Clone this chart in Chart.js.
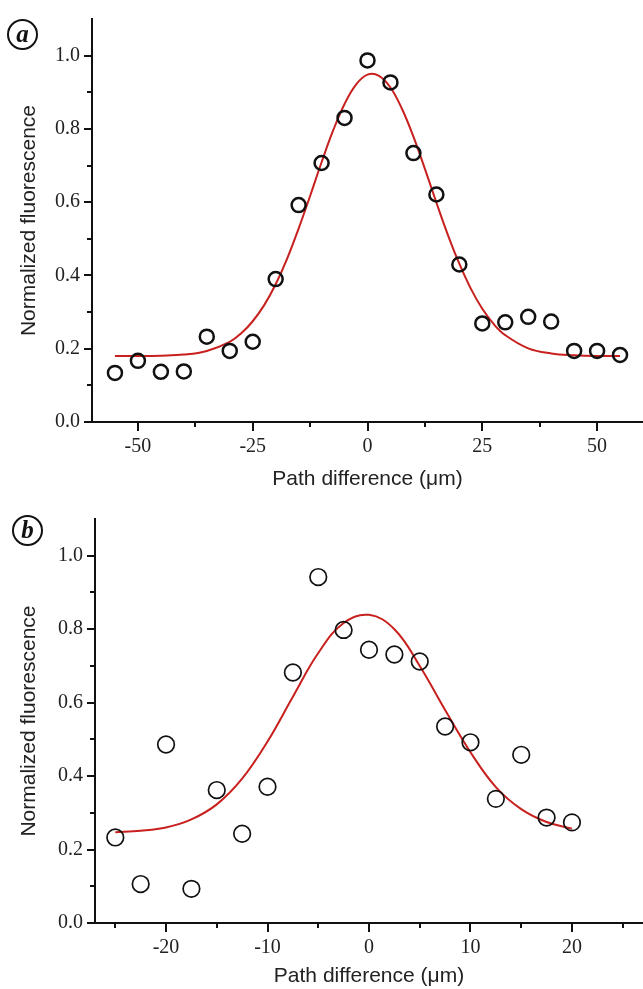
<!DOCTYPE html>
<html>
<head>
<meta charset="utf-8">
<script src="https://cdn.jsdelivr.net/npm/chart.js@4.4.1/dist/chart.umd.min.js"></script>
<style>
    body { margin: 0; background: #fff; width: 643px; height: 989px; position: relative; overflow: hidden; }
    canvas { position: absolute; left: 0; }
    #graficoA { top: 0; }
    #graficoB { top: 495px; }
    .etiqueta {
        position: absolute; width: 27px; height: 27px;
        border: 2px solid #111; border-radius: 50%;
        font: italic bold 25px "Liberation Serif", serif;
        text-align: center; line-height: 25px; color: #111;
    }
</style>
</head>
<body>
<canvas id="graficoA" width="643" height="495"></canvas>
<canvas id="graficoB" width="643" height="494"></canvas>
<div class="etiqueta" style="left:7px; top:19px;">a</div>
<div class="etiqueta" style="left:12px; top:515px;">b</div>
<script>
// Panel (a): medidas
const distanciaA = [-55, -50, -45, -40, -35, -30, -25, -20, -15, -10, -5, 0, 5, 10, 15, 20, 25, 30, 35, 40, 45, 50, 55];
const fluorA = [0.134, 0.167, 0.137, 0.138, 0.233, 0.194, 0.219, 0.390, 0.592, 0.707, 0.830, 0.987, 0.927, 0.734, 0.621, 0.430, 0.269, 0.272, 0.287, 0.274, 0.194, 0.194, 0.183];
// Panel (a): curva de ajuste
const ajusteXA = [-55, -50, -45, -40, -35, -30, -27.5, -25, -22.5, -20, -17.5, -15, -12.5, -10, -7.5, -5, -2.5, 0, 2.5, 5, 7.5, 10, 12.5, 15, 17.5, 20, 22.5, 25, 27.5, 30, 35, 40, 45, 50, 55];
const ajusteYA = [0.180, 0.180, 0.181, 0.184, 0.194, 0.219, 0.242, 0.275, 0.319, 0.376, 0.446, 0.528, 0.617, 0.709, 0.795, 0.868, 0.921, 0.948, 0.945, 0.913, 0.855, 0.779, 0.691, 0.599, 0.511, 0.432, 0.364, 0.309, 0.267, 0.237, 0.201, 0.187, 0.182, 0.180, 0.180];
const ticksXA = [-50, -25, 0, 25, 50];
const menoresXA = [-37.5, -12.5, 12.5, 37.5];

// Panel (b): medidas
const distanciaB = [-25, -22.5, -20, -17.5, -15, -12.5, -10, -7.5, -5, -2.5, 0, 2.5, 5, 7.5, 10, 12.5, 15, 17.5, 20];
const fluorB = [0.233, 0.106, 0.486, 0.093, 0.362, 0.243, 0.371, 0.682, 0.942, 0.798, 0.744, 0.731, 0.712, 0.535, 0.492, 0.338, 0.458, 0.287, 0.274];
// Panel (b): curva de ajuste
const ajusteXB = [-25, -22.5, -20, -17.5, -15, -12.5, -10, -7.5, -5, -2.5, 0, 2.5, 5, 7.5, 10, 12.5, 15, 17.5, 20];
const ajusteYB = [0.247, 0.251, 0.260, 0.282, 0.323, 0.393, 0.494, 0.616, 0.735, 0.817, 0.839, 0.800, 0.700, 0.580, 0.465, 0.370, 0.310, 0.275, 0.257];
const ticksXB = [-20, -10, 0, 10, 20];
const menoresXB = [-25, -15, -5, 5, 15, 25];

// Eje Y comun
const ticksY = [0, 0.2, 0.4, 0.6, 0.8, 1.0];
const menoresY = [0.1, 0.3, 0.5, 0.7, 0.9];

// Marcas menores de los ejes
const ticksMenores = {
    id: 'ticksMenores',
    afterDraw(chart, args, opts) {
        const { ctx, scales: { x, y } } = chart;
        ctx.save();
        ctx.strokeStyle = '#111';
        ctx.lineWidth = 2;
        ctx.beginPath();
        opts.x.forEach(v => {
            const px = Math.round(x.getPixelForValue(v));
            ctx.moveTo(px, x.top);
            ctx.lineTo(px, x.top + 5);
        });
        opts.y.forEach(v => {
            const py = Math.round(y.getPixelForValue(v));
            ctx.moveTo(y.right, py);
            ctx.lineTo(y.right - 5, py);
        });
        ctx.stroke();
        ctx.restore();
    }
};

function crearPanel(idCanvas, p) {
    const puntos = p.xs.map((v, i) => ({ x: v, y: p.ys[i] }));
    const curva = p.fx.map((v, i) => ({ x: v, y: p.fy[i] }));
    new Chart(document.getElementById(idCanvas), {
        type: 'scatter',
        data: {
            datasets: [{
                data: puntos,
                pointStyle: 'circle',
                pointRadius: p.radio,
                pointBorderWidth: p.borde,
                pointBackgroundColor: 'rgba(0,0,0,0)',
                pointBorderColor: '#111',
                order: 1
            }, {
                data: curva,
                showLine: true,
                tension: 0.4,
                borderColor: '#c8201e',
                borderWidth: 2,
                pointRadius: 0,
                order: 2
            }]
        },
        options: {
            responsive: false,
            animation: false,
            layout: { autoPadding: false, padding: { top: p.arriba, right: 0, bottom: 0, left: 0 } },
            plugins: {
                legend: { display: false },
                tooltip: { enabled: false },
                ticksMenores: { x: p.menoresX, y: menoresY }
            },
            scales: {
                x: {
                    type: 'linear',
                    min: p.minX,
                    max: p.maxX,
                    afterBuildTicks: s => { s.ticks = p.ticksX.map(v => ({ value: v })); },
                    afterFit: s => { s.height = p.altoX; s.paddingLeft = 0; s.paddingRight = 0; },
                    border: { color: '#111', width: 2 },
                    grid: { drawOnChartArea: false, tickLength: 9, color: '#111', lineWidth: 2 },
                    ticks: {
                        font: { family: 'Liberation Serif', size: 20 },
                        color: '#222', padding: 4, maxRotation: 0,
                        callback: v => String(v)
                    },
                    title: {
                        display: true,
                        text: 'Path difference (μm)',
                        font: { family: 'Liberation Sans', size: 21 },
                        color: '#222',
                        padding: { top: 0, bottom: p.pieTitulo }
                    }
                },
                y: {
                    min: 0,
                    max: 1.1,
                    afterBuildTicks: s => { s.ticks = ticksY.map(v => ({ value: v })); },
                    afterFit: s => { s.width = p.anchoY; s.paddingTop = 0; s.paddingBottom = 0; },
                    border: { color: '#111', width: 2 },
                    grid: { drawOnChartArea: false, tickLength: 8, color: '#111', lineWidth: 2 },
                    ticks: {
                        font: { family: 'Liberation Serif', size: 20 },
                        color: '#222', padding: 4,
                        callback: v => Number(v).toFixed(1)
                    },
                    title: {
                        display: true,
                        text: 'Normalized fluorescence',
                        font: { family: 'Liberation Sans', size: 21 },
                        color: '#222',
                        padding: { top: 17, bottom: 0 }
                    }
                }
            }
        },
        plugins: [ticksMenores]
    });
}

crearPanel('graficoA', {
    xs: distanciaA, ys: fluorA, fx: ajusteXA, fy: ajusteYA,
    ticksX: ticksXA, menoresX: menoresXA,
    minX: -60, maxX: 60, anchoY: 92, altoX: 73, arriba: 19, pieTitulo: 3,
    radio: 7, borde: 2.5
});

crearPanel('graficoB', {
    xs: distanciaB, ys: fluorB, fx: ajusteXB, fy: ajusteYB,
    ticksX: ticksXB, menoresX: menoresXB,
    minX: -27, maxX: 27, anchoY: 95, altoX: 66, arriba: 24, pieTitulo: 0,
    radio: 8.3, borde: 1.7
});
</script>
</body>
</html>
